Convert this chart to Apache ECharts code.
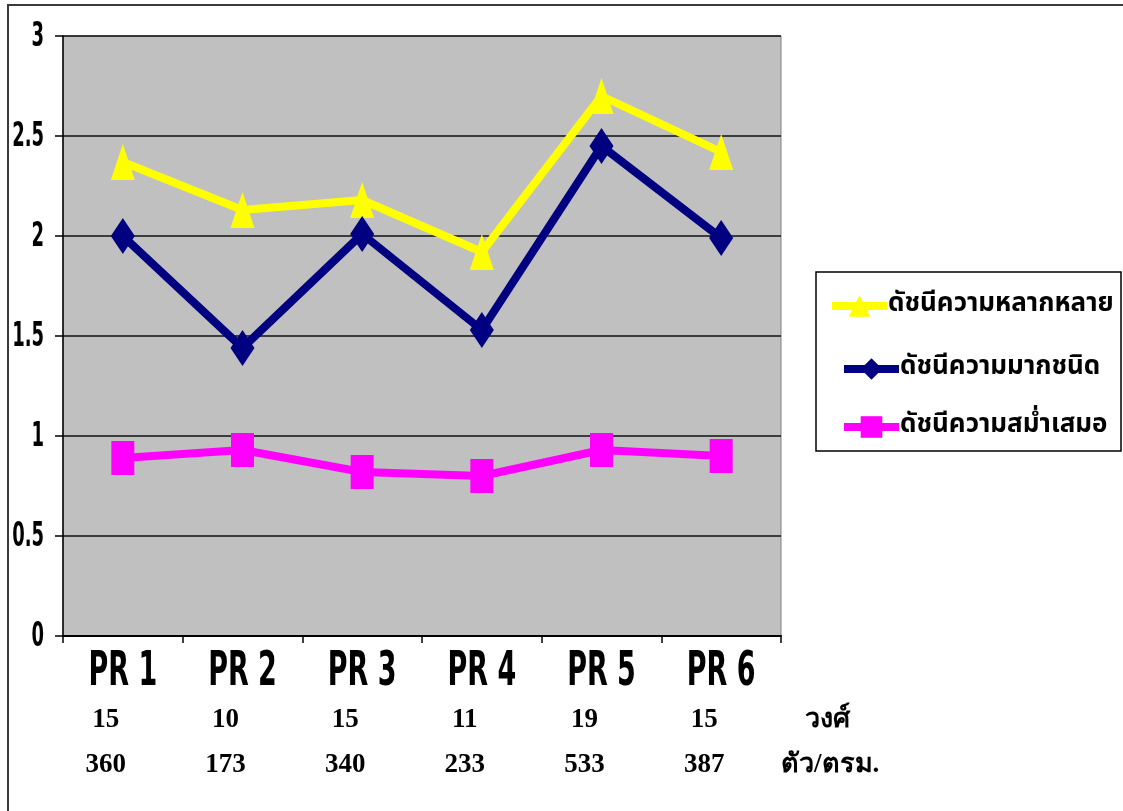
<!DOCTYPE html>
<html>
<head>
<meta charset="utf-8">
<script src="https://cdn.jsdelivr.net/npm/echarts@6/dist/echarts.min.js"></script>
<style>
  html, body { margin: 0; padding: 0; background: #ffffff; }
  #chart { width: 1123px; height: 811px; }
</style>
</head>
<body>
<div id="chart"></div>
<script>
// Sampling plots
const categories = ['PR 1', 'PR 2', 'PR 3', 'PR 4', 'PR 5', 'PR 6'];

// Index values per plot
const diversityIndex = [2.37, 2.13, 2.18, 1.92, 2.70, 2.42];   // ดัชนีความหลากหลาย
const richnessIndex  = [2.00, 1.44, 2.01, 1.53, 2.45, 1.99];   // ดัชนีความมากชนิด
const evennessIndex  = [0.89, 0.93, 0.82, 0.80, 0.93, 0.90];   // ดัชนีความสม่ำเสมอ

// Counts shown under each plot
const familyCounts = [15, 10, 15, 11, 19, 15];        // วงศ์
const densityPerM2 = [360, 173, 340, 233, 533, 387];  // ตัว/ตรม.

// Value axis ticks
const yTickValues = [0, 0.5, 1, 1.5, 2, 2.5, 3];
const yTickLabels = ['0', '0.5', '1', '1.5', '2', '2.5', '3'];

const seriesNames = ['ดัชนีความหลากหลาย', 'ดัชนีความมากชนิด', 'ดัชนีความสม่ำเสมอ'];
const familyUnit = 'วงศ์';
const densityUnit = 'ตัว/ตรม.';

const condensedBold = '"DejaVu Sans Condensed", "DejaVu Sans", sans-serif';
const serifFont = '"Liberation Serif", "DejaVu Serif", serif';
const thaiSans = '"Noto Sans Thai", "Noto Sans", "DejaVu Sans Condensed", sans-serif';

const chart = echarts.init(document.getElementById('chart'), null, { renderer: 'canvas' });

// Extra category rows under the plot (counts with their unit as the axis name)
function rowAxis(values, unit, offset, gap) {
  return {
    type: 'category',
    data: values.map(String),
    gridIndex: 0,
    position: 'bottom',
    offset: offset,
    boundaryGap: true,
    axisLine: { show: false },
    axisTick: { show: false },
    axisLabel: {
      interval: 0,
      margin: 0,
      verticalAlign: 'middle',
      padding: [0, 34, 0, 0],
      fontFamily: serifFont,
      fontWeight: 'bold',
      fontSize: 27,
      color: '#000'
    },
    name: unit,
    nameLocation: 'end',
    nameGap: gap,
    nameTextStyle: {
      fontFamily: serifFont,
      fontWeight: 'bold',
      fontSize: 27,
      color: '#000',
      verticalAlign: 'middle'
    }
  };
}

function legendFor(name, left, top) {
  return {
    data: [name],
    left: left,
    top: top,
    orient: 'horizontal',
    itemWidth: 55,
    itemHeight: 27,
    itemGap: 0,
    selectedMode: false,
    lineStyle: { width: 8 },
    textStyle: {
      fontFamily: thaiSans,
      fontWeight: 'bold',
      fontSize: 26,
      color: '#000',
      padding: [0, 0, 0, -4]
    }
  };
}

// Tall, narrow bold text element
function tallText(text, x, y, size, sy, align, vAlign) {
  return {
    type: 'text',
    x: x,
    y: y,
    scaleY: sy,
    style: {
      text: text,
      fontFamily: condensedBold,
      fontWeight: 'bold',
      fontSize: size,
      fill: '#000',
      align: align,
      verticalAlign: vAlign
    }
  };
}

const option = {
  backgroundColor: '#ffffff',
  animation: false,
  graphic: [
    {
      type: 'rect',
      z: -10,
      shape: { x: 8, y: 5, width: 1200, height: 900 },
      style: { fill: 'none', stroke: '#3a3a3a', lineWidth: 2 }
    },
    {
      type: 'rect',
      z: -5,
      shape: { x: 816, y: 272, width: 305, height: 179 },
      style: { fill: '#ffffff', stroke: '#000000', lineWidth: 1.5 }
    }
  ],
  legend: [
    legendFor(seriesNames[0], 823, 288),
    legendFor(seriesNames[1], 835, 351),
    legendFor(seriesNames[2], 835, 409)
  ],
  grid: {
    left: 63,
    top: 36,
    right: 342,
    bottom: 175,
    show: true,
    backgroundColor: '#c0c0c0',
    borderColor: '#808080',
    borderWidth: 1
  },
  xAxis: [
    {
      type: 'category',
      data: categories,
      boundaryGap: true,
      axisLine: { show: true, lineStyle: { color: '#000', width: 2 } },
      axisTick: { show: true, interval: 0, length: 7, lineStyle: { color: '#000', width: 1.5 } },
      axisLabel: { show: false }
    },
    rowAxis(familyCounts, familyUnit, 84, 24),
    rowAxis(densityPerM2, densityUnit, 129, 0)
  ],
  yAxis: {
    type: 'value',
    min: 0,
    max: 3,
    interval: 0.5,
    axisLine: { show: true, lineStyle: { color: '#000', width: 1.5 } },
    axisTick: { show: true, length: 8, lineStyle: { color: '#000', width: 1.5 } },
    axisLabel: { show: false },
    splitLine: { show: true, lineStyle: { color: '#111', width: 1.5 } }
  },
  series: [
    {
      name: seriesNames[0],
      type: 'line',
      data: diversityIndex,
      symbol: 'triangle',
      symbolSize: [24, 36],
      color: '#ffff00',
      lineStyle: { color: '#ffff00', width: 8 },
      itemStyle: { color: '#ffff00' }
    },
    {
      name: seriesNames[1],
      type: 'line',
      data: richnessIndex,
      symbol: 'diamond',
      symbolSize: [24, 36],
      color: '#000080',
      lineStyle: { color: '#000080', width: 8 },
      itemStyle: { color: '#000080' }
    },
    {
      name: seriesNames[2],
      type: 'line',
      data: evennessIndex,
      symbol: 'rect',
      symbolSize: [23, 34],
      color: '#ff00ff',
      lineStyle: { color: '#ff00ff', width: 8 },
      itemStyle: { color: '#ff00ff' }
    },
    {
      // Plot names under each category slot
      name: 'plotNames',
      type: 'custom',
      silent: true,
      clip: false,
      data: categories.map((c, i) => [i, 0]),
      renderItem: function (params, api) {
        const idx = api.value(0);
        const p = api.coord([idx, 0]);
        return tallText(categories[idx], p[0], p[1] + 13, 30, 1.6, 'center', 'top');
      }
    },
    {
      // Value-axis tick labels, left of the plot
      name: 'valueTicks',
      type: 'custom',
      silent: true,
      clip: false,
      data: yTickValues.map((v, i) => [0, v, i]),
      renderItem: function (params, api) {
        const p = api.coord([0, api.value(1)]);
        const left = params.coordSys.x;
        return tallText(yTickLabels[api.value(2)], left - 19, p[1] + 1, 20, 1.7, 'right', 'middle');
      }
    }
  ]
};

chart.setOption(option);
</script>
</body>
</html>
